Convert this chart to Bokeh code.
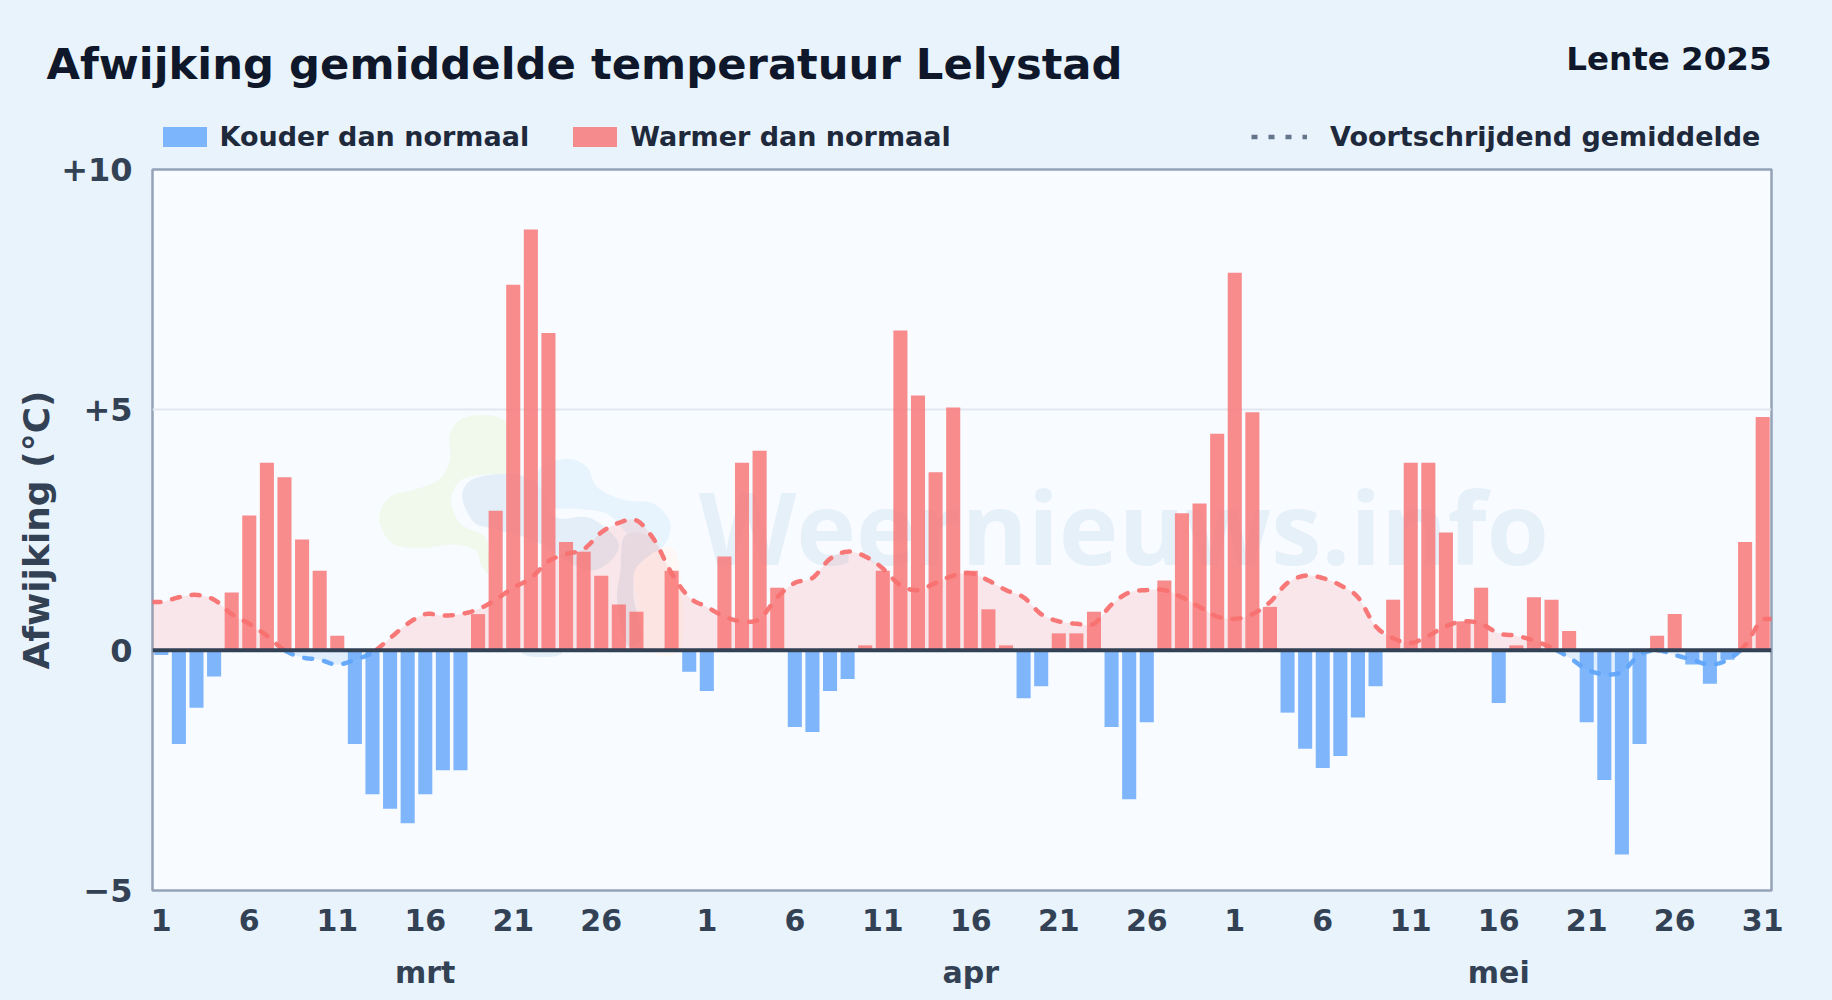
from bokeh.plotting import figure
from bokeh.layouts import column
from bokeh.embed import file_html
from bokeh.resources import INLINE
from bokeh.core.properties import value
from bokeh.models import Label, Legend, LegendItem, Span, FixedTicker, ColumnDataSource, Range1d, LinearAxis
import numpy as np

# Day numbers and month names
month_lengths = [31, 30, 31]
month_names = ["mrt", "apr", "mei"]
tick_days = [1, 6, 11, 16, 21, 26]

# Daily temperature anomaly (deg C)
anomaly_mrt = [-0.1, -1.95, -1.2, -0.55, 1.2, 2.8, 3.9, 3.6, 2.3, 1.65, 0.3, -1.95, -3.0, -3.3, -3.6, -3.0,
               -2.5, -2.5, 0.75, 2.9, 7.6, 8.75, 6.6, 2.25, 2.05, 1.55, 0.95, 0.8, 0.0, 1.65, -0.45]
anomaly_apr = [-0.85, 1.95, 3.9, 4.15, 1.3, -1.6, -1.7, -0.85, -0.6, 0.1, 1.65, 6.65, 5.3, 3.7, 5.05, 1.65,
               0.85, 0.1, -1.0, -0.75, 0.35, 0.35, 0.8, -1.6, -3.1, -1.5, 1.45, 2.85, 3.05, 4.5]
anomaly_mei = [7.85, 4.95, 0.9, -1.3, -2.05, -2.45, -2.2, -1.4, -0.75, 1.05, 3.9, 3.9, 2.45, 0.6, 1.3, -1.1,
               0.1, 1.1, 1.05, 0.4, -1.5, -2.7, -4.25, -1.95, 0.3, 0.75, -0.3, -0.7, -0.2, 2.25, 4.85]

# Moving average (deg C)
avg_mrt = [1.0, 1.1, 1.15, 1.05, 0.75, 0.55, 0.3, 0.0, -0.15, -0.2, -0.3, -0.2, -0.05, 0.25, 0.55, 0.75,
           0.72, 0.75, 0.85, 1.05, 1.3, 1.5, 1.85, 2.0, 2.1, 2.45, 2.65, 2.7, 2.3, 1.6, 1.1]
avg_apr = [0.9, 0.7, 0.6, 0.65, 1.1, 1.4, 1.5, 1.9, 2.05, 1.95, 1.7, 1.35, 1.25, 1.4, 1.55, 1.6,
           1.45, 1.25, 1.1, 0.75, 0.6, 0.55, 0.55, 0.95, 1.2, 1.25, 1.25, 1.1, 0.9, 0.7]
avg_mei = [0.65, 0.75, 1.0, 1.4, 1.55, 1.5, 1.35, 1.1, 0.5, 0.25, 0.15, 0.3, 0.5, 0.6, 0.55, 0.35,
           0.3, 0.2, 0.05, -0.15, -0.4, -0.5, -0.45, -0.1, 0.0, -0.1, -0.2, -0.3, -0.2, 0.1, 0.65]

BG = "#e8f3fc"
RED = "#f87171"
BLUE = "#60a5fa"
INK = "#334155"
DARK = "#0f172a"
LEG = "#1e293b"
FONT = "DejaVu Sans"

anomaly = np.array(anomaly_mrt + anomaly_apr + anomaly_mei)
avg = np.array(avg_mrt + avg_apr + avg_mei)
idx = np.arange(len(anomaly))

# The header and the chart overlap by a few pixels, so neither cuts the other's text
HEAD_H = 160
CHART_TOP = 146
p = figure(width=1832, height=1000 - CHART_TOP, output_backend="svg", toolbar_location=None, frame_align=False,
           x_range=Range1d(-0.5, 91.5), y_range=Range1d(-5, 10),
           min_border_left=152, min_border_right=61, min_border_top=169 - CHART_TOP, min_border_bottom=110,
           background_fill_color="#f8fbff", border_fill_color=None,
           outline_line_color="#94a3b8", outline_line_width=2.5, margin=(CHART_TOP - HEAD_H, 0, 0, 0))


def smooth_closed(points):
    """Smooth closed outline of a decorative watermark blob, page pixels to data."""
    a = np.array(points, float)
    out = []
    n = len(a)
    for k in range(n):
        p0, p1, p2, p3 = a[k - 1], a[k], a[(k + 1) % n], a[(k + 2) % n]
        for t in np.linspace(0, 1, 8, endpoint=False):
            out.append(0.5 * (2 * p1 + (p2 - p0) * t + (2 * p0 - 5 * p1 + 4 * p2 - p3) * t ** 2
                              + (3 * p1 - p0 - 3 * p2 + p3) * t ** 3))
    out = np.array(out)
    px = 360 + out[:, 0] / 3
    py = 400 + out[:, 1] / 3
    return (px - 152) / (1619 / 92) - 0.5, (649.67 - py) / (721 / 15)


# Watermark logo
logo_green = [(268, 100), (310, 52), (390, 45), (445, 80), (450, 210), (370, 222), (300, 240), (272, 300),
              (300, 370), (370, 405), (385, 450), (385, 520), (360, 490), (345, 450), (280, 432), (180, 443),
              (100, 432), (62, 380), (60, 330), (95, 285), (170, 265), (235, 238), (268, 180)]
logo_sky = [(540, 200), (620, 175), (680, 200), (710, 260), (790, 298), (880, 310), (930, 370), (905, 440),
            (840, 440), (800, 400), (740, 340), (650, 325), (570, 320), (535, 270)]
logo_blue = [(305, 290), (330, 240), (400, 222), (480, 225), (540, 262), (585, 350), (680, 350), (750, 395),
             (775, 440), (740, 490), (680, 510), (600, 470), (520, 420), (400, 385), (340, 365)]
logo_gray = [(790, 410), (850, 400), (900, 440), (830, 510), (820, 600), (850, 700), (800, 735), (770, 600), (780, 510)]
logo_peach = [(820, 520), (860, 470), (930, 440), (960, 520), (960, 745), (860, 745), (830, 600)]
logo_low = [(490, 755), (600, 755), (580, 768), (510, 768)]
for shape, col in ((logo_green, "#f1f8ec"), (logo_sky, "#e8f4fd"), (logo_blue, "#e4eef8"),
                   (logo_gray, "#e6ecf5"), (logo_peach, "#fdf8f6"), (logo_low, "#e4eef8")):
    lx, ly = smooth_closed(shape)
    p.patch(lx, ly, fill_color=col, line_color=None)

p.text(x=[54.7], y=[2.58], text=["Weernieuws.info"], text_font=value("Open Sans"),
       text_font_style="bold", text_font_size="101px", text_color="#80b2d7", text_alpha=0.15,
       text_align="center", text_baseline="alphabetic")

pos = anomaly >= 0
src_r = ColumnDataSource(dict(x=idx[pos], top=anomaly[pos]))
src_b = ColumnDataSource(dict(x=idx[~pos], top=anomaly[~pos]))
p.vbar(x="x", top="top", bottom=0, width=0.8, source=src_r, fill_color=RED, fill_alpha=0.8, line_color=None)
p.vbar(x="x", top="top", bottom=0, width=0.8, source=src_b, fill_color=BLUE, fill_alpha=0.8, line_color=None)

# Smooth curve through the moving average (Catmull-Rom), held flat out to the frame edges
n_sub = 16
pts = np.concatenate([[avg[0]], avg, [avg[-1]]])
xs, ys = [np.array([idx[0] - 0.5])], [np.array([avg[0]])]
for k in range(len(avg) - 1):
    p0, p1, p2, p3 = pts[k:k + 4]
    t = np.linspace(0, 1, n_sub, endpoint=False)
    ys.append(0.5 * (2 * p1 + (p2 - p0) * t + (2 * p0 - 5 * p1 + 4 * p2 - p3) * t ** 2 + (3 * p1 - p0 - 3 * p2 + p3) * t ** 3))
    xs.append(k + t)
cx = np.concatenate(xs + [[idx[-1], idx[-1] + 0.5]])
cy = np.concatenate(ys + [[avg[-1], avg[-1]]])

p.varea(x=cx, y1=0, y2=np.maximum(cy, 0), fill_color=RED, fill_alpha=0.15)
p.varea(x=cx, y1=0, y2=np.minimum(cy, 0), fill_color=BLUE, fill_alpha=0.15)

# split curve by sign
sx, sy, sc = [], [], []
start = 0
for k in range(1, len(cy) + 1):
    if k == len(cy) or (cy[k] >= 0) != (cy[start] >= 0):
        end = min(k + 1, len(cy))
        sx.append(cx[start:end]); sy.append(cy[start:end])
        sc.append(RED if cy[start] >= 0 else BLUE)
        start = k
p.multi_line(sx, sy, line_color=sc, line_width=4.5, line_alpha=0.95, line_dash="8 12", line_cap="round")

p.add_layout(Span(location=0, dimension="width", line_color=INK, line_width=4))

# axes
labels = {}
tick_pos = []
off = 0
for m, L in enumerate(month_lengths):
    days = tick_days + ([31] if m == 2 else [])
    for d in days:
        labels[off + d - 1] = str(d)
        tick_pos.append(off + d - 1)
    off += L
p.xaxis.ticker = FixedTicker(ticks=tick_pos)
p.xaxis.major_label_overrides = labels
y_labels = {10: "+10", 5: "+5", 0: "0", -5: "\u22125"}
p.yaxis.ticker = FixedTicker(ticks=list(y_labels))
p.yaxis.major_label_overrides = y_labels

# month names, as a second axis under the day numbers, centred on day 16
month_ticks = {}
off = 0
for L, name in zip(month_lengths, month_names):
    month_ticks[off + 15] = name
    off += L
month_axis = LinearAxis(ticker=FixedTicker(ticks=list(month_ticks)), major_label_overrides=month_ticks)
p.add_layout(month_axis, "below")

for ax in (p.xaxis[0], p.yaxis[0], month_axis):
    ax.major_tick_line_color = None
    ax.minor_tick_line_color = None
    ax.axis_line_color = None
    ax.major_label_text_font = FONT
    ax.major_label_text_font_style = "bold"
    ax.major_label_text_font_size = "30px"
    ax.major_label_text_color = INK
p.yaxis[0].major_label_text_font_size = "32px"
p.xaxis[0].major_label_standoff = 12
month_axis.major_label_standoff = 15
p.yaxis.major_label_standoff = 14
p.yaxis.axis_label = "Afwijking (\u00b0C)"
p.yaxis.axis_label_text_font = FONT
p.yaxis.axis_label_text_font_style = "bold"
p.yaxis.axis_label_text_font_size = "36px"
p.yaxis.axis_label_text_color = INK
p.yaxis.axis_label_standoff = 1
p.xgrid.visible = False
p.ygrid.ticker = FixedTicker(ticks=list(y_labels))
p.ygrid.grid_line_color = "#e2e8f0"
p.ygrid.grid_line_width = 2

# Header: title, period and legends. y runs down from the top of the page.
h = figure(width=1832, height=HEAD_H, output_backend="svg", toolbar_location=None, frame_align=False,
           x_range=Range1d(0, 1832), y_range=Range1d(HEAD_H, 0), x_axis_type=None, y_axis_type=None,
           min_border=0, background_fill_color=BG, border_fill_color=BG, outline_line_color=None,
           styles={"background-color": BG})
h.grid.visible = False
h.add_layout(Label(x=46, y=63, text="Afwijking gemiddelde temperatuur Lelystad", text_font=FONT,
                   text_font_style="bold", text_font_size="43.3px", text_color=DARK, text_baseline="alphabetic"))
h.add_layout(Label(x=1771, y=58, text="Lente 2025", text_font=FONT, text_font_style="bold",
                   text_font_size="32.5px", text_color=DARK, text_align="right", text_baseline="alphabetic"))

# Legend keys only: their single entries lie outside the visible range
d_blue = h.vbar(x=[-100], top=[-100], width=1, fill_color=BLUE, fill_alpha=0.8, line_color=None)
d_red = h.vbar(x=[-100], top=[-100], width=1, fill_color=RED, fill_alpha=0.8, line_color=None)
d_line = h.line([-100, -90], [-100, -100], line_color="#64748b", line_width=4.5, line_dash="6 11")
common = dict(border_line_color=None, background_fill_alpha=0, padding=0, margin=0,
              label_text_font=FONT, label_text_font_style="bold", label_text_font_size="27px",
              label_text_color=LEG, orientation="horizontal")
leg_y = HEAD_H - 152
leg1 = Legend(items=[LegendItem(label="Kouder dan normaal", renderers=[d_blue]),
                     LegendItem(label="Warmer dan normaal", renderers=[d_red])],
              location=(156.5, leg_y), spacing=38, glyph_width=55, glyph_height=25, label_standoff=8, **common)
leg2 = Legend(items=[LegendItem(label="Voortschrijdend gemiddelde", renderers=[d_line])],
              location=(1251, leg_y), glyph_width=56, glyph_height=25, label_standoff=23, **common)
h.add_layout(leg1, "center")
h.add_layout(leg2, "center")

page = column(h, p, spacing=0, styles={"background-color": BG})
html = file_html(page, INLINE)
html = html.replace("</head>", "<style>html,body{margin:0;background:%s}</style></head>" % BG, 1)
open("out.html", "w").write(html)
